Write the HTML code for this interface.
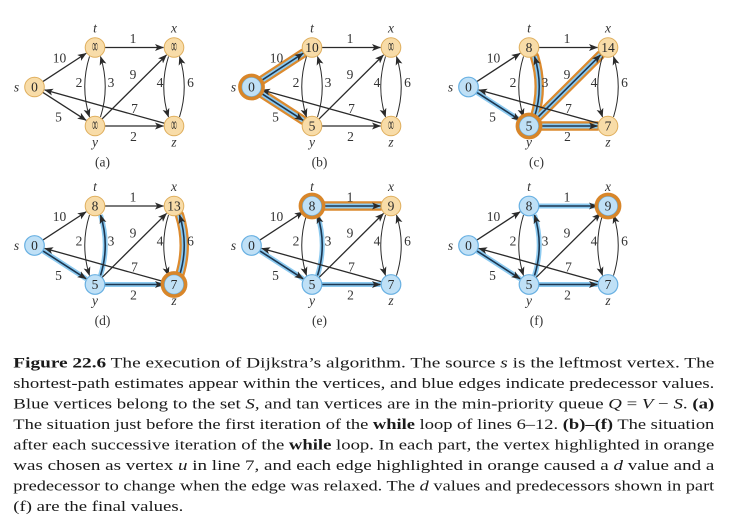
<!DOCTYPE html>
<html>
<head>
<meta charset="utf-8">
<style>
  html,body{margin:0;padding:0;background:#fff;}
  svg{display:block;}
  .e{stroke:#2a2a2a;stroke-width:1.3;fill:none;marker-end:url(#ah);}
  .c{stroke-width:1;}
  .h{stroke:#1c3650;stroke-width:1.6;fill:none;marker-end:url(#ah);}
  .bb{stroke:#8ccaf0;stroke-width:5;fill:none;}
  .ob{stroke:#dc8a2e;stroke-width:9.5;fill:none;stroke-linecap:round;}
  .tan{fill:#f8dca8;stroke:#dfae5c;stroke-width:1;}
  .blu{fill:#bfe0f6;stroke:#68b0e2;stroke-width:1.2;}
  .ring{fill:none;stroke:#d8862a;stroke-width:3.6;}
  .nv{font-family:"Liberation Serif",serif;font-size:13.5px;fill:#2a2a2a;text-anchor:middle;}
  .lb{font-family:"Liberation Serif",serif;font-size:13.5px;fill:#333;text-anchor:middle;}
  .vl{font-family:"Liberation Serif",serif;font-style:italic;font-size:13.5px;fill:#333;text-anchor:middle;}
  .cap{font-family:"Liberation Serif",serif;font-size:15px;fill:#1a1a1a;}
</style>
</head>
<body>
<svg width="743" height="521" viewBox="0 0 743 521" xmlns="http://www.w3.org/2000/svg">
<defs>
  <marker id="ah" markerUnits="userSpaceOnUse" markerWidth="10" markerHeight="8" refX="8.5" refY="3.5" orient="auto">
    <path d="M0,0 L9,3.5 L0,7 L2.2,3.5 Z" fill="#2a2a2a"/>
  </marker>
  <path id="st" d="M-52.13,34.03 L-8.79,5.74"/>
  <path id="sy" d="M-52.09,44.92 L-8.83,72.81"/>
  <path id="tx" d="M10,0 L68.5,0"/>
  <path id="yz" d="M10,78.5 L68.5,78.5"/>
  <path id="yx" d="M7.09,71.45 L71.55,7.4"/>
  <path id="zs" d="M69.37,75.81 L-50.39,42.33"/>
  <path id="ty" d="M-5.5,9 Q-15,39.25 -5.5,69.5"/>
  <path id="yt" d="M5.5,69.5 Q15,39.25 5.5,9"/>
  <path id="xz" d="M73.5,9 Q64,39.25 73.5,69.5"/>
  <path id="zx" d="M84.5,69.5 Q94,39.25 84.5,9"/>
  <g id="labels">
    <text class="lb" x="-35.5" y="15">10</text>
    <text class="lb" x="38" y="-4.5">1</text>
    <text class="lb" x="-16" y="39.5">2</text>
    <text class="lb" x="16" y="39.5">3</text>
    <text class="lb" x="38" y="31.5">9</text>
    <text class="lb" x="65" y="39.5">4</text>
    <text class="lb" x="95.5" y="39.5">6</text>
    <text class="lb" x="39.5" y="65.5">7</text>
    <text class="lb" x="-36.5" y="74">5</text>
    <text class="lb" x="38.5" y="93.5">2</text>
    <text class="vl" x="-78.5" y="44">s</text>
    <text class="vl" x="0" y="-15">t</text>
    <text class="vl" x="79" y="-15">x</text>
    <text class="vl" x="0" y="99">y</text>
    <text class="vl" x="79" y="99">z</text>
  </g>
  <g id="inf"><g transform="scale(0.6,1.5)"><text class="nv" x="0" y="3.2">∞</text></g></g>
</defs>

<!-- (a) -->
<g transform="translate(95,47.5)">
  <use href="#st" class="e"/><use href="#sy" class="e"/><use href="#tx" class="e"/><use href="#yz" class="e"/>
  <use href="#yx" class="e"/><use href="#zs" class="e"/>
  <use href="#ty" class="e c"/><use href="#yt" class="e c"/><use href="#xz" class="e c"/><use href="#zx" class="e c"/>
  <use href="#labels"/>
  <circle class="tan" cx="-60.5" cy="39.5" r="9.8"/><text class="nv" x="-60.5" y="44">0</text>
  <circle class="tan" cx="0" cy="0" r="9.8"/><use href="#inf" x="0" y="0"/>
  <circle class="tan" cx="79" cy="0" r="9.8"/><use href="#inf" x="79" y="0"/>
  <circle class="tan" cx="0" cy="78.5" r="9.8"/><use href="#inf" x="0" y="78.5"/>
  <circle class="tan" cx="79" cy="78.5" r="9.8"/><use href="#inf" x="79" y="78.5"/>
  <text class="lb" x="7.5" y="119">(a)</text>
</g>

<!-- (b) -->
<g transform="translate(312,47.5)">
  <use href="#st" class="ob"/><use href="#sy" class="ob"/>
  <use href="#st" class="bb"/><use href="#sy" class="bb"/>
  <use href="#st" class="h"/><use href="#sy" class="h"/>
  <use href="#tx" class="e"/><use href="#yz" class="e"/>
  <use href="#yx" class="e"/><use href="#zs" class="e"/>
  <use href="#ty" class="e c"/><use href="#yt" class="e c"/><use href="#xz" class="e c"/><use href="#zx" class="e c"/>
  <use href="#labels"/>
  <circle class="blu" cx="-60.5" cy="39.5" r="9.8"/><circle class="ring" cx="-60.5" cy="39.5" r="11.6"/><text class="nv" x="-60.5" y="44">0</text>
  <circle class="tan" cx="0" cy="0" r="9.8"/><text class="nv" x="0" y="4.5">10</text>
  <circle class="tan" cx="79" cy="0" r="9.8"/><use href="#inf" x="79" y="0"/>
  <circle class="tan" cx="0" cy="78.5" r="9.8"/><text class="nv" x="0" y="83">5</text>
  <circle class="tan" cx="79" cy="78.5" r="9.8"/><use href="#inf" x="79" y="78.5"/>
  <text class="lb" x="7.5" y="119">(b)</text>
</g>

<!-- (c) -->
<g transform="translate(529,47.5)">
  <use href="#yt" class="ob"/><use href="#yx" class="ob"/><use href="#yz" class="ob"/>
  <use href="#sy" class="bb"/><use href="#yt" class="bb"/><use href="#yx" class="bb"/><use href="#yz" class="bb"/>
  <use href="#sy" class="h"/><use href="#yt" class="h"/><use href="#yx" class="h"/><use href="#yz" class="h"/>
  <use href="#st" class="e"/><use href="#tx" class="e"/><use href="#zs" class="e"/>
  <use href="#ty" class="e c"/><use href="#xz" class="e c"/><use href="#zx" class="e c"/>
  <use href="#labels"/>
  <circle class="blu" cx="-60.5" cy="39.5" r="9.8"/><text class="nv" x="-60.5" y="44">0</text>
  <circle class="tan" cx="0" cy="0" r="9.8"/><text class="nv" x="0" y="4.5">8</text>
  <circle class="tan" cx="79" cy="0" r="9.8"/><text class="nv" x="79" y="4.5">14</text>
  <circle class="blu" cx="0" cy="78.5" r="9.8"/><circle class="ring" cx="0" cy="78.5" r="11.6"/><text class="nv" x="0" y="83">5</text>
  <circle class="tan" cx="79" cy="78.5" r="9.8"/><text class="nv" x="79" y="83">7</text>
  <text class="lb" x="7.5" y="119">(c)</text>
</g>

<!-- (d) -->
<g transform="translate(95,206)">
  <use href="#zx" class="ob"/>
  <use href="#sy" class="bb"/><use href="#yt" class="bb"/><use href="#yz" class="bb"/><use href="#zx" class="bb"/>
  <use href="#sy" class="h"/><use href="#yt" class="h"/><use href="#yz" class="h"/><use href="#zx" class="h"/>
  <use href="#st" class="e"/><use href="#tx" class="e"/><use href="#zs" class="e"/><use href="#yx" class="e"/>
  <use href="#ty" class="e c"/><use href="#xz" class="e c"/>
  <use href="#labels"/>
  <circle class="blu" cx="-60.5" cy="39.5" r="9.8"/><text class="nv" x="-60.5" y="44">0</text>
  <circle class="tan" cx="0" cy="0" r="9.8"/><text class="nv" x="0" y="4.5">8</text>
  <circle class="tan" cx="79" cy="0" r="9.8"/><text class="nv" x="79" y="4.5">13</text>
  <circle class="blu" cx="0" cy="78.5" r="9.8"/><text class="nv" x="0" y="83">5</text>
  <circle class="blu" cx="79" cy="78.5" r="9.8"/><circle class="ring" cx="79" cy="78.5" r="11.6"/><text class="nv" x="79" y="83">7</text>
  <text class="lb" x="7.5" y="119">(d)</text>
</g>

<!-- (e) -->
<g transform="translate(312,206)">
  <use href="#tx" class="ob"/>
  <use href="#sy" class="bb"/><use href="#yt" class="bb"/><use href="#yz" class="bb"/><use href="#tx" class="bb"/>
  <use href="#sy" class="h"/><use href="#yt" class="h"/><use href="#yz" class="h"/><use href="#tx" class="h"/>
  <use href="#st" class="e"/><use href="#zs" class="e"/><use href="#yx" class="e"/>
  <use href="#ty" class="e c"/><use href="#xz" class="e c"/><use href="#zx" class="e c"/>
  <use href="#labels"/>
  <circle class="blu" cx="-60.5" cy="39.5" r="9.8"/><text class="nv" x="-60.5" y="44">0</text>
  <circle class="blu" cx="0" cy="0" r="9.8"/><circle class="ring" cx="0" cy="0" r="11.6"/><text class="nv" x="0" y="4.5">8</text>
  <circle class="tan" cx="79" cy="0" r="9.8"/><text class="nv" x="79" y="4.5">9</text>
  <circle class="blu" cx="0" cy="78.5" r="9.8"/><text class="nv" x="0" y="83">5</text>
  <circle class="blu" cx="79" cy="78.5" r="9.8"/><text class="nv" x="79" y="83">7</text>
  <text class="lb" x="7.5" y="119">(e)</text>
</g>

<!-- (f) -->
<g transform="translate(529,206)">
  <use href="#sy" class="bb"/><use href="#yt" class="bb"/><use href="#yz" class="bb"/><use href="#tx" class="bb"/>
  <use href="#sy" class="h"/><use href="#yt" class="h"/><use href="#yz" class="h"/><use href="#tx" class="h"/>
  <use href="#st" class="e"/><use href="#zs" class="e"/><use href="#yx" class="e"/>
  <use href="#ty" class="e c"/><use href="#xz" class="e c"/><use href="#zx" class="e c"/>
  <use href="#labels"/>
  <circle class="blu" cx="-60.5" cy="39.5" r="9.8"/><text class="nv" x="-60.5" y="44">0</text>
  <circle class="blu" cx="0" cy="0" r="9.8"/><text class="nv" x="0" y="4.5">8</text>
  <circle class="blu" cx="79" cy="0" r="9.8"/><circle class="ring" cx="79" cy="0" r="11.6"/><text class="nv" x="79" y="4.5">9</text>
  <circle class="blu" cx="0" cy="78.5" r="9.8"/><text class="nv" x="0" y="83">5</text>
  <circle class="blu" cx="79" cy="78.5" r="9.8"/><text class="nv" x="79" y="83">7</text>
  <text class="lb" x="7.5" y="119">(f)</text>
</g>

<!-- caption -->
<text class="cap" x="13.3" y="367.3" textLength="701" lengthAdjust="spacingAndGlyphs"><tspan font-weight="bold">Figure 22.6</tspan> The execution of Dijkstra’s algorithm. The source <tspan font-style="italic">s</tspan> is the leftmost vertex. The</text>
<text class="cap" x="13.3" y="387.8" textLength="701" lengthAdjust="spacingAndGlyphs">shortest-path estimates appear within the vertices, and blue edges indicate predecessor values.</text>
<text class="cap" x="13.3" y="408.3" textLength="701" lengthAdjust="spacingAndGlyphs">Blue vertices belong to the set <tspan font-style="italic">S</tspan>, and tan vertices are in the min-priority queue <tspan font-style="italic">Q</tspan> = <tspan font-style="italic">V</tspan> − <tspan font-style="italic">S</tspan>. <tspan font-weight="bold">(a)</tspan></text>
<text class="cap" x="13.3" y="428.8" textLength="701" lengthAdjust="spacingAndGlyphs">The situation just before the first iteration of the <tspan font-weight="bold">while</tspan> loop of lines 6–12. <tspan font-weight="bold">(b)–(f)</tspan> The situation</text>
<text class="cap" x="13.3" y="449.3" textLength="701" lengthAdjust="spacingAndGlyphs">after each successive iteration of the <tspan font-weight="bold">while</tspan> loop. In each part, the vertex highlighted in orange</text>
<text class="cap" x="13.3" y="469.8" textLength="701" lengthAdjust="spacingAndGlyphs">was chosen as vertex <tspan font-style="italic">u</tspan> in line 7, and each edge highlighted in orange caused a <tspan font-style="italic">d</tspan> value and a</text>
<text class="cap" x="13.3" y="490.3" textLength="701" lengthAdjust="spacingAndGlyphs">predecessor to change when the edge was relaxed. The <tspan font-style="italic">d</tspan> values and predecessors shown in part</text>
<text class="cap" x="13.3" y="510.8" textLength="170" lengthAdjust="spacingAndGlyphs">(f) are the final values.</text>
</svg>
</body>
</html>
